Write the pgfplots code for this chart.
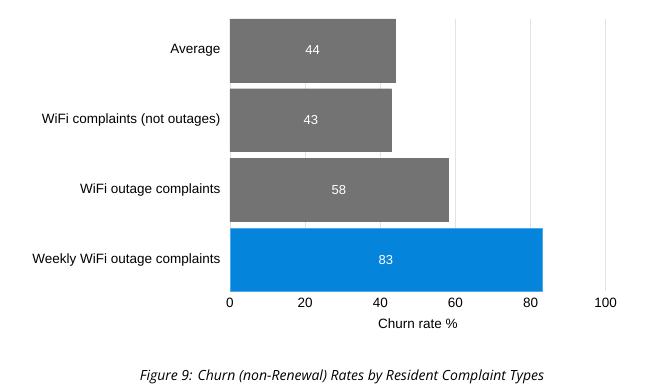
\documentclass[border=0pt]{standalone}
\usepackage{fontspec}
\setmainfont{Liberation Sans}
\newfontfamily\capfont{Open Sans}
\usepackage{pgfplots}
\pgfplotsset{compat=1.18}
\usepackage{pgfplotstable}
\definecolor{bargray}{HTML}{737373}
\definecolor{barblue}{HTML}{0584DC}
\definecolor{gridgray}{HTML}{E3E3E3}
\pgfplotstableread{
y v
3 44
2 43
1 58
}\graydata
\pgfplotstableread{
y v
0 83
}\bluedata
\pgfplotstableread{
y v
3 44
2 43
1 58
0 83
}\alldata
\begin{document}
\begin{tikzpicture}[x=1pt,y=1pt]
\useasboundingbox (-230,-100) rectangle (420,291);
\begin{axis}[
  at={(0,0)}, anchor=south west,
  scale only axis, width=375.7pt, height=272pt,
  xmin=0, xmax=100, ymin=-0.45, ymax=3.45,
  xtick={0,20,40,60,80,100},
  ytick={0,1,2,3},
  yticklabels={Weekly WiFi outage complaints, WiFi outage complaints, WiFi complaints (not outages), Average},
  axis line style={draw=none},
  major tick length=0pt,
  xmajorgrids, major grid style={gridgray, line width=0.8pt},
  tick label style={font=\fontsize{13.5}{15}\selectfont, text=black},
  /pgf/number format/assume math mode=true,
  xticklabel style={yshift=-4pt},
  yticklabel style={xshift=-6pt},
  xlabel={Churn rate \%},
  xlabel style={font=\fontsize{13.5}{15}\selectfont, yshift=-4pt},
  axis on top=false,
  clip=false,
]
\addplot[xbar, bar width=0.9, fill=bargray, draw=bargray] table[x=v, y=y] {\graydata};
\addplot[xbar, bar width=0.9, fill=barblue, draw=barblue!70!white] table[x=v, y=y] {\bluedata};
\addplot[only marks, mark=none, point meta=explicit, nodes near coords,
  nodes near coords style={anchor=center, text=white, font=\fontsize{13}{15}\selectfont}]
  table[x expr=\thisrow{v}/2, y=y, meta=v] {\alldata};
\end{axis}
\node[font=\capfont\itshape\fontsize{14}{16}\selectfont, text=black, anchor=center] at (112,-86) {Figure 9: Churn (non-Renewal) Rates by Resident Complaint Types};
\end{tikzpicture}
\end{document}
